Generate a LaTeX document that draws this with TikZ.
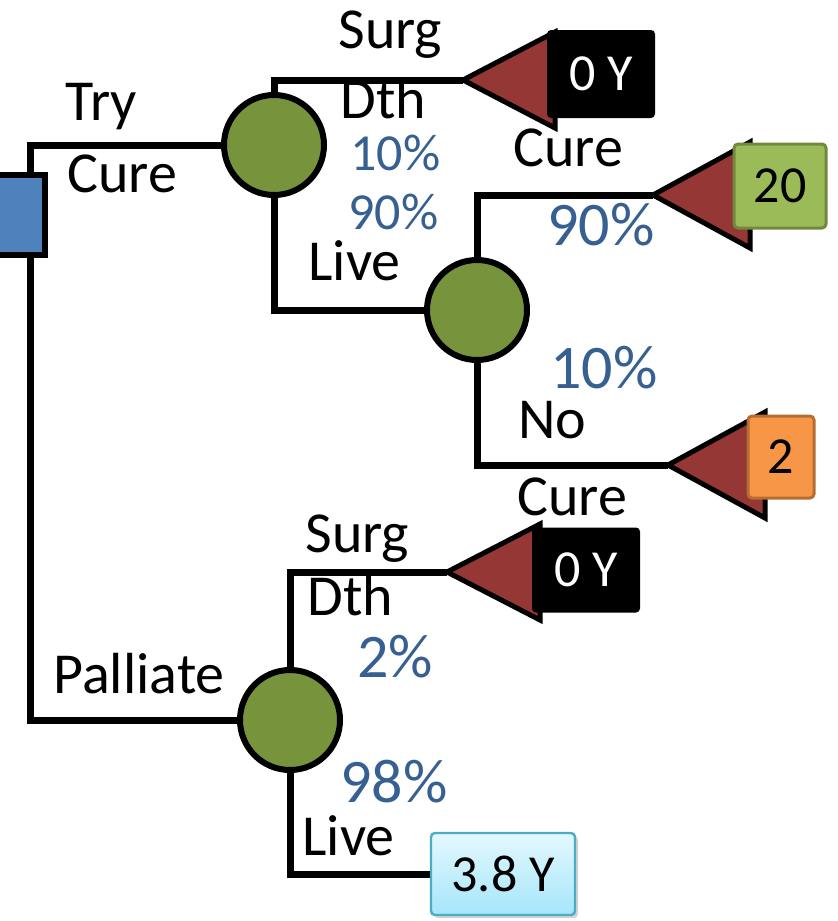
\documentclass[tikz,border=0pt]{standalone}
\usepackage{fontspec}
\setmainfont{Carlito}
\usepackage{tikz}
\usetikzlibrary{shadows}
\definecolor{chanceGreen}{RGB}{119,147,60}
\definecolor{leafRed}{RGB}{149,55,53}
\definecolor{decBlue}{RGB}{79,129,189}
\definecolor{probBlue}{RGB}{55,96,146}
\definecolor{cureGreen}{RGB}{155,187,89}
\definecolor{cureEdge}{RGB}{113,137,63}
\definecolor{noOrange}{RGB}{247,150,70}
\definecolor{noEdge}{RGB}{182,109,49}
\definecolor{liveTop}{RGB}{228,248,255}
\definecolor{liveBot}{RGB}{165,230,250}
\definecolor{liveEdge}{RGB}{75,172,198}
\tikzset{%
  chance/.style={
    circle,
    draw,
    line width=3pt,
    fill=chanceGreen,
    minimum size=50pt,
    inner sep=0pt
  },
  decision/.style={
    rectangle,
    draw,
    line width=3pt,
    fill=decBlue,
    minimum size=40pt
  },
  leaf/.style={draw, line width=2.5pt, fill=leafRed},
  branch/.style={line width=3.5pt},
  payoff/.style={
    rectangle,
    rounded corners=2pt,
    inner sep=0pt,
    font=\fontsize{26}{30}\selectfont
  },
  lbl/.style={anchor=base west, inner sep=0pt, font=\fontsize{29}{34}\selectfont},
  prob/.style={lbl, text=probBlue, font=\fontsize{31}{36}\selectfont},
  prob small/.style={lbl, text=probBlue, font=\fontsize{26}{30}\selectfont},
}

\begin{document}
\begin{tikzpicture}[x=0.5pt, y=-0.5pt]

\useasboundingbox (0,0) rectangle (837,921);
\clip (0,0) rectangle (837,921);

% chance nodes and branch ends
\coordinate (root) at (30,215);
\node [chance] (chance-1) at (274,145) {};
\node [chance] (chance-2) at (477,310) {};
\node [chance] (chance-3) at (290,720) {};
\coordinate (leaf-1) at (463,80);
\coordinate (leaf-2) at (653,195);
\coordinate (leaf-3) at (668,465);
\coordinate (leaf-4) at (447,572);

% branches
\draw [branch] (root) |- (chance-1);
\draw [branch] (root) |- (chance-3);
\draw [branch] (chance-1) |- (leaf-1);
\draw [branch] (chance-1) |- (chance-2);
\draw [branch] (chance-2) |- (leaf-2);
\draw [branch] (chance-2) |- (leaf-3);
\draw [branch] (chance-3) |- (leaf-4);

% terminal triangles
\foreach \t/\w/\h in {1/92/48, 2/97/53, 3/97/53, 4/93/48}
  \draw [leaf] (leaf-\t) -- ++(\w,-\h) -- ++(0,2*\h) -- cycle;

% payoffs
\node [payoff, fill=black, text=white, minimum width=54pt, minimum height=44pt] (pay-1) at (601,74) {0 Y};
\node [payoff, fill=cureGreen, draw=cureEdge, line width=1.5pt, minimum width=46pt, minimum height=42pt] (pay-2) at (780,186) {20};
\node [payoff, fill=noOrange, draw=noEdge, line width=1.5pt, minimum width=33pt, minimum height=41pt] (pay-3) at (781,457) {2};
\node [payoff, fill=black, text=white, minimum width=54pt, minimum height=42.5pt] (pay-4) at (586,570) {0 Y};
\node [payoff, top color=liveTop, bottom color=liveBot, draw=liveEdge, line width=1.2pt,
       minimum width=72pt, minimum height=41pt,
       drop shadow={shadow xshift=1.5pt, shadow yshift=-1.5pt, opacity=.35}] (pay-5) at (503,874) {3.8 Y};
\draw [branch] (chance-3) |- (pay-5);

% decision node
\node [decision] (decide) at (5,215) {};

% labels
\foreach \x/\y/\txt [count=\i] in {65/120/Try, 67/192/Cure, 338/48/Surg, 340/118/Dth,
    308/280/Live, 513/166/Cure, 518/438/No, 517/515/Cure, 305/552/Surg,
    307/615/Dth, 53/693/Palliate, 302/855/Live}
  \node [lbl] (lbl-\i) at (\x,\y) {\txt};
\foreach \x/\y/\txt [count=\i] in {547/245/90\%, 550/388/10\%, 357/677/2\%, 340/802/98\%}
  \node [prob] (prob-\i) at (\x,\y) {\txt};
\node [prob small] (prob-5) at (350,170) {10\%};
\node [prob small] (prob-6) at (348,229) {90\%};

\end{tikzpicture}
\end{document}
